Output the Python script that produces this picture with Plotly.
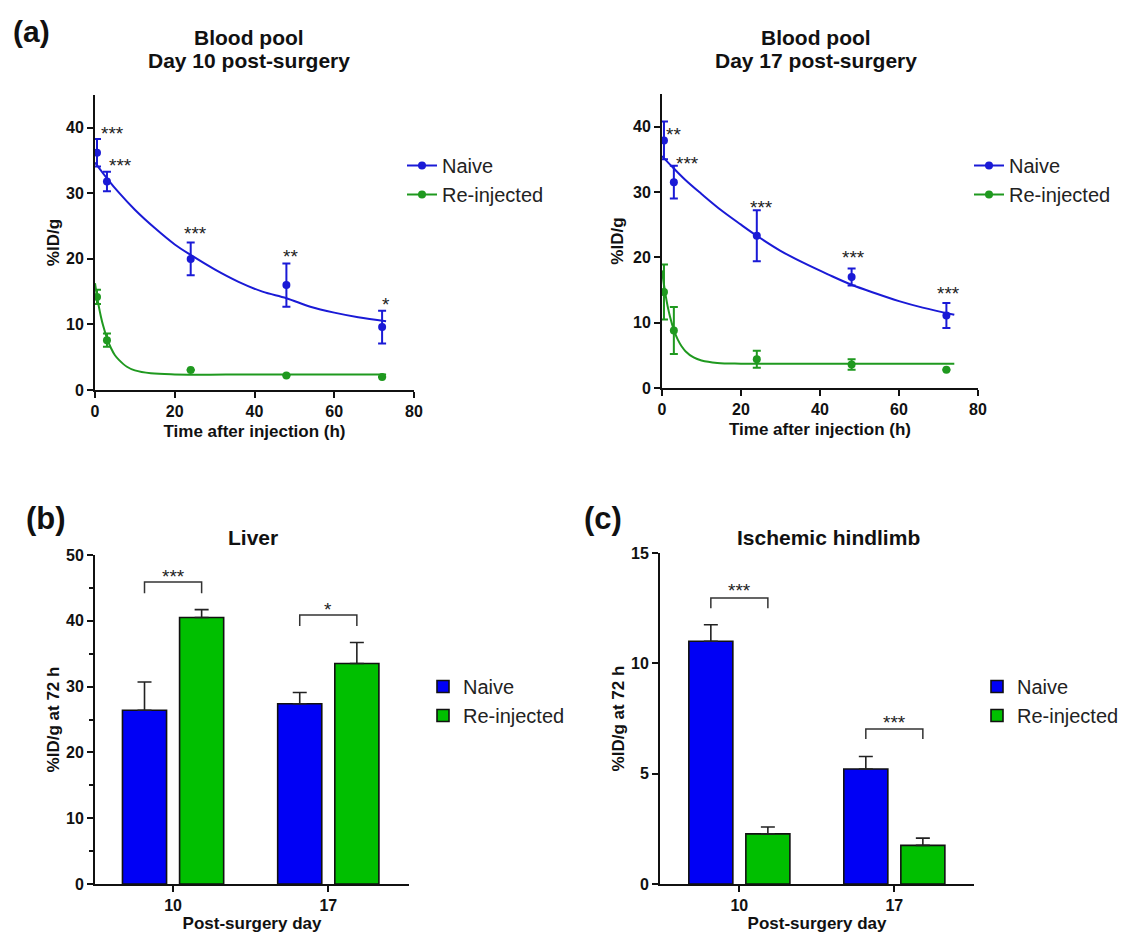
import plotly.graph_objects as go

# page body has an 8px margin: figure placed at (8, 8)
OFF = 8
FW, FH = 1121, 925
FONT = "Liberation Sans, Arial, sans-serif"

# ---------------- Panel (a): blood pool ----------------
times = [0.5, 3, 24, 48, 72]

d10_naive_mean = [36.2, 31.8, 20.0, 16.0, 9.6]
d10_naive_sem = [2.1, 1.5, 2.5, 3.3, 2.5]
d10_reinj_mean = [14.2, 7.6, 3.05, 2.2, 2.0]
d10_reinj_sem = [1.1, 1.0, 0, 0, 0]

d17_naive_mean = [37.9, 31.5, 23.3, 17.0, 11.1]
d17_naive_sem = [2.9, 2.5, 3.9, 1.3, 1.9]
d17_reinj_mean = [14.7, 8.8, 4.4, 3.6, 2.8]
d17_reinj_sem = [4.2, 3.6, 1.3, 0.8, 0]

# fitted decay curves
fit10_naive_t = [0, 3, 6, 10, 15, 20, 24, 30, 36, 42, 48, 54, 60, 66, 73]
fit10_naive_y = [34.7, 32.3, 30.1, 27.5, 24.7, 22.2, 20.6, 18.4, 16.5, 15.0, 14.0, 12.7, 11.8, 11.1, 10.5]
fit10_reinj_t = [0, 0.5, 1, 1.5, 2, 3, 4, 5, 6, 8, 10, 14, 20, 40, 73]
fit10_reinj_y = [16.3, 14.3, 12.6, 11.15, 9.9, 7.9, 6.4, 5.3, 4.6, 3.55, 3.0, 2.55, 2.38, 2.35, 2.35]
fit17_naive_t = [0, 3, 6, 10, 15, 20, 24, 30, 36, 42, 48, 54, 60, 66, 74]
fit17_naive_y = [35.5, 33.6, 31.8, 29.7, 27.2, 25.0, 23.3, 21.0, 19.1, 17.4, 15.8, 14.5, 13.3, 12.3, 11.2]
fit17_reinj_t = [0, 0.5, 1, 1.5, 2, 3, 4, 5, 6, 8, 10, 14, 20, 40, 74]
fit17_reinj_y = [18.0, 15.8, 13.9, 12.3, 11.0, 8.9, 7.4, 6.35, 5.6, 4.67, 4.2, 3.83, 3.72, 3.7, 3.7]

# significance stars (text, x, y)
stars10_text = ["***", "***", "***", "**", "*"]
stars10_x = [4.4, 6.5, 25.1, 49.0, 73.0]
stars10_y = [39.7, 34.9, 24.5, 21.0, 13.7]
stars17_text = ["**", "***", "***", "***", "***"]
stars17_x = [2.9, 6.4, 25.2, 48.6, 72.5]
stars17_y = [39.4, 34.9, 28.2, 20.6, 15.0]

# ---------------- Panels (b), (c): bars ----------------
days = ["10", "17"]
liver_naive = [26.4, 27.4]
liver_naive_sem = [4.3, 1.7]
liver_reinj = [40.5, 33.5]
liver_reinj_sem = [1.2, 3.2]
limb_naive = [11.0, 5.21]
limb_naive_sem = [0.75, 0.57]
limb_reinj = [2.27, 1.75]
limb_reinj_sem = [0.31, 0.33]

liver_sig_text = ["***", "*"]
liver_sig_top = [45.9, 40.9]
liver_sig_leg = [44.2, 39.2]
liver_sig_star = [47.4, 42.4]
limb_sig_text = ["***", "***"]
limb_sig_top = [12.96, 7.02]
limb_sig_leg = [12.5, 6.57]
limb_sig_star = [13.46, 7.5]

BLUE_L = "#1a1ad6"
GREEN_L = "#1f991f"
BLUE_B = "#0000f5"
GREEN_B = "#00bf00"
BARGAP = 0.264
BARGROUPGAP = 0.228


def px(x):
    return (x - OFF) / FW


def py(y):
    return 1 - (y - OFF) / FH


fig = go.Figure()


def add_time_panel(xa, ya, leg, nm, ns, rm, rs, nt, ny, rt, ry):
    for mean, sem, ft, fy, col, name in [
        (nm, ns, nt, ny, BLUE_L, "Naive"),
        (rm, rs, rt, ry, GREEN_L, "Re-injected"),
    ]:
        fig.add_trace(go.Scatter(
            x=ft, y=fy, mode="lines", line=dict(color=col, width=2, shape="spline"),
            xaxis=xa, yaxis=ya, showlegend=False, hoverinfo="skip"))
        fig.add_trace(go.Scatter(
            x=times, y=mean, mode="markers", marker=dict(color=col, size=8),
            error_y=dict(type="data", array=sem, color=col, thickness=2, width=4,
                         visible=True),
            xaxis=xa, yaxis=ya, showlegend=False))
        fig.add_trace(go.Scatter(
            x=[None], y=[None], mode="lines+markers", name=name,
            line=dict(color=col, width=2), marker=dict(color=col, size=8),
            xaxis=xa, yaxis=ya, legend=leg, showlegend=True))


add_time_panel("x", "y", "legend", d10_naive_mean, d10_naive_sem, d10_reinj_mean,
               d10_reinj_sem, fit10_naive_t, fit10_naive_y, fit10_reinj_t, fit10_reinj_y)
add_time_panel("x2", "y2", "legend2", d17_naive_mean, d17_naive_sem, d17_reinj_mean,
               d17_reinj_sem, fit17_naive_t, fit17_naive_y, fit17_reinj_t, fit17_reinj_y)

xpos = list(range(len(days)))


def add_bar_panel(xa, ya, leg, nv, ns, rv, rs):
    for vals, sem, col, name in [(nv, ns, BLUE_B, "Naive"), (rv, rs, GREEN_B, "Re-injected")]:
        fig.add_trace(go.Bar(
            x=xpos, y=vals, name=name, marker=dict(color=col, line=dict(color="#111", width=1.6)),
            error_y=dict(type="data", array=sem, arrayminus=[0] * len(sem), symmetric=False,
                         color="#222", thickness=1.6, width=7),
            xaxis=xa, yaxis=ya, legend=leg, showlegend=True))


add_bar_panel("x3", "y3", "legend3", liver_naive, liver_naive_sem, liver_reinj, liver_reinj_sem)
add_bar_panel("x4", "y4", "legend4", limb_naive, limb_naive_sem, limb_reinj, limb_reinj_sem)

fig.update_layout(barmode="group", bargap=BARGAP, bargroupgap=BARGROUPGAP)

# brackets + stars
half = (1 - BARGAP) / 4
annotations = []
shapes = []
for xa, ya, texts, tops, legs, stys in [
    ("x3", "y3", liver_sig_text, liver_sig_top, liver_sig_leg, liver_sig_star),
    ("x4", "y4", limb_sig_text, limb_sig_top, limb_sig_leg, limb_sig_star),
]:
    for i, (t, top, lg, sy) in enumerate(zip(texts, tops, legs, stys)):
        x0, x1 = xpos[i] - half, xpos[i] + half
        shapes.append(dict(type="path", xref=xa, yref=ya,
                           path=f"M {x0},{lg} L {x0},{top} L {x1},{top} L {x1},{lg}",
                           line=dict(color="#333", width=1.5)))
        annotations.append(dict(x=xpos[i], y=sy, xref=xa, yref=ya, text=t, showarrow=False,
                                font=dict(size=19, color="#222", family=FONT),
                                yanchor="middle", yshift=-4))

for xa, ya, texts, xs, ys in [("x", "y", stars10_text, stars10_x, stars10_y),
                              ("x2", "y2", stars17_text, stars17_x, stars17_y)]:
    for t, x, y in zip(texts, xs, ys):
        annotations.append(dict(x=x, y=y, xref=xa, yref=ya, text=t, showarrow=False,
                                font=dict(size=19, color="#222", family=FONT),
                                yanchor="middle", yshift=-4))


# titles and panel labels
def title_ann(text, x, y, size=21):
    annotations.append(dict(x=px(x), y=py(y), xref="paper", yref="paper", text=text,
                            showarrow=False, xanchor="center", yanchor="middle",
                            font=dict(size=size, color="#111", family=FONT, weight="bold")))


title_ann("Blood pool", 249, 37)
title_ann("Day 10 post-surgery", 249, 61)
title_ann("Blood pool", 816, 37)
title_ann("Day 17 post-surgery", 816, 61)
title_ann("Liver", 253, 537)
title_ann("Ischemic hindlimb", 828, 537)
title_ann("(a)", 31, 32, 30)
title_ann("(b)", 46, 518, 31)
title_ann("(c)", 603, 518, 31)

fig.update_layout(annotations=annotations, shapes=shapes)

tickfont = dict(size=16, color="#111", family=FONT, weight="bold")
titlefont = dict(size=17, color="#111", family=FONT, weight="bold")
axcommon = dict(showline=True, linecolor="#111", linewidth=2, ticks="outside", ticklen=6,
                tickwidth=2, tickcolor="#111", showgrid=False, zeroline=False,
                tickfont=tickfont, fixedrange=True, automargin=False)

XSTAND = 6
YSTAND = 2
fig.update_layout(
    xaxis=dict(domain=[px(95), px(414)], range=[0, 80], dtick=20, anchor="y",
               title=dict(text="Time after injection (h)", font=titlefont, standoff=XSTAND), **axcommon),
    yaxis=dict(domain=[py(390), py(95)], range=[0, 45], tickvals=[0, 10, 20, 30, 40], anchor="x",
               title=dict(text="%ID/g", font=titlefont, standoff=YSTAND), **axcommon),
    xaxis2=dict(domain=[px(662), px(978)], range=[0, 80], dtick=20, anchor="y2",
                title=dict(text="Time after injection (h)", font=titlefont, standoff=XSTAND), **axcommon),
    yaxis2=dict(domain=[py(388), py(94)], range=[0, 45], tickvals=[0, 10, 20, 30, 40], anchor="x2",
                title=dict(text="%ID/g", font=titlefont, standoff=YSTAND + 3), **axcommon),
    xaxis3=dict(domain=[px(95), px(409)], range=[-0.503, 1.52], tickvals=xpos, ticktext=days,
                anchor="y3", title=dict(text="Post-surgery day", font=titlefont, standoff=XSTAND),
                **axcommon),
    yaxis3=dict(domain=[py(884), py(555)], range=[0, 50], dtick=10, anchor="x3",
                minor=dict(dtick=5, ticks="outside", ticklen=4, tickwidth=1.5, tickcolor="#111"),
                title=dict(text="%ID/g at 72 h", font=titlefont, standoff=YSTAND), **axcommon),
    xaxis4=dict(domain=[px(660), px(974)], range=[-0.512, 1.514], tickvals=xpos, ticktext=days,
                anchor="y4", title=dict(text="Post-surgery day", font=titlefont, standoff=XSTAND),
                **axcommon),
    yaxis4=dict(domain=[py(884), py(553)], range=[0, 15], dtick=5, anchor="x4",
                title=dict(text="%ID/g at 72 h", font=titlefont, standoff=YSTAND), **axcommon),
)

legfont = dict(size=20, color="#222", family=FONT)
legcommon = dict(font=legfont, bgcolor="rgba(0,0,0,0)", borderwidth=0, xanchor="left",
                 yanchor="top", tracegroupgap=0, itemclick=False, itemdoubleclick=False)
fig.update_layout(
    legend=dict(x=px(402), y=py(146), **legcommon),
    legend2=dict(x=px(969), y=py(146), **legcommon),
    legend3=dict(x=px(423), y=py(667), **legcommon),
    legend4=dict(x=px(977), y=py(667), **legcommon),
)

fig.update_layout(width=FW, height=FH, margin=dict(l=0, r=0, t=0, b=0, autoexpand=False),
                  plot_bgcolor="white", paper_bgcolor="white",
                  font=dict(family=FONT, color="#111"))

fig.write_html("out.html")
